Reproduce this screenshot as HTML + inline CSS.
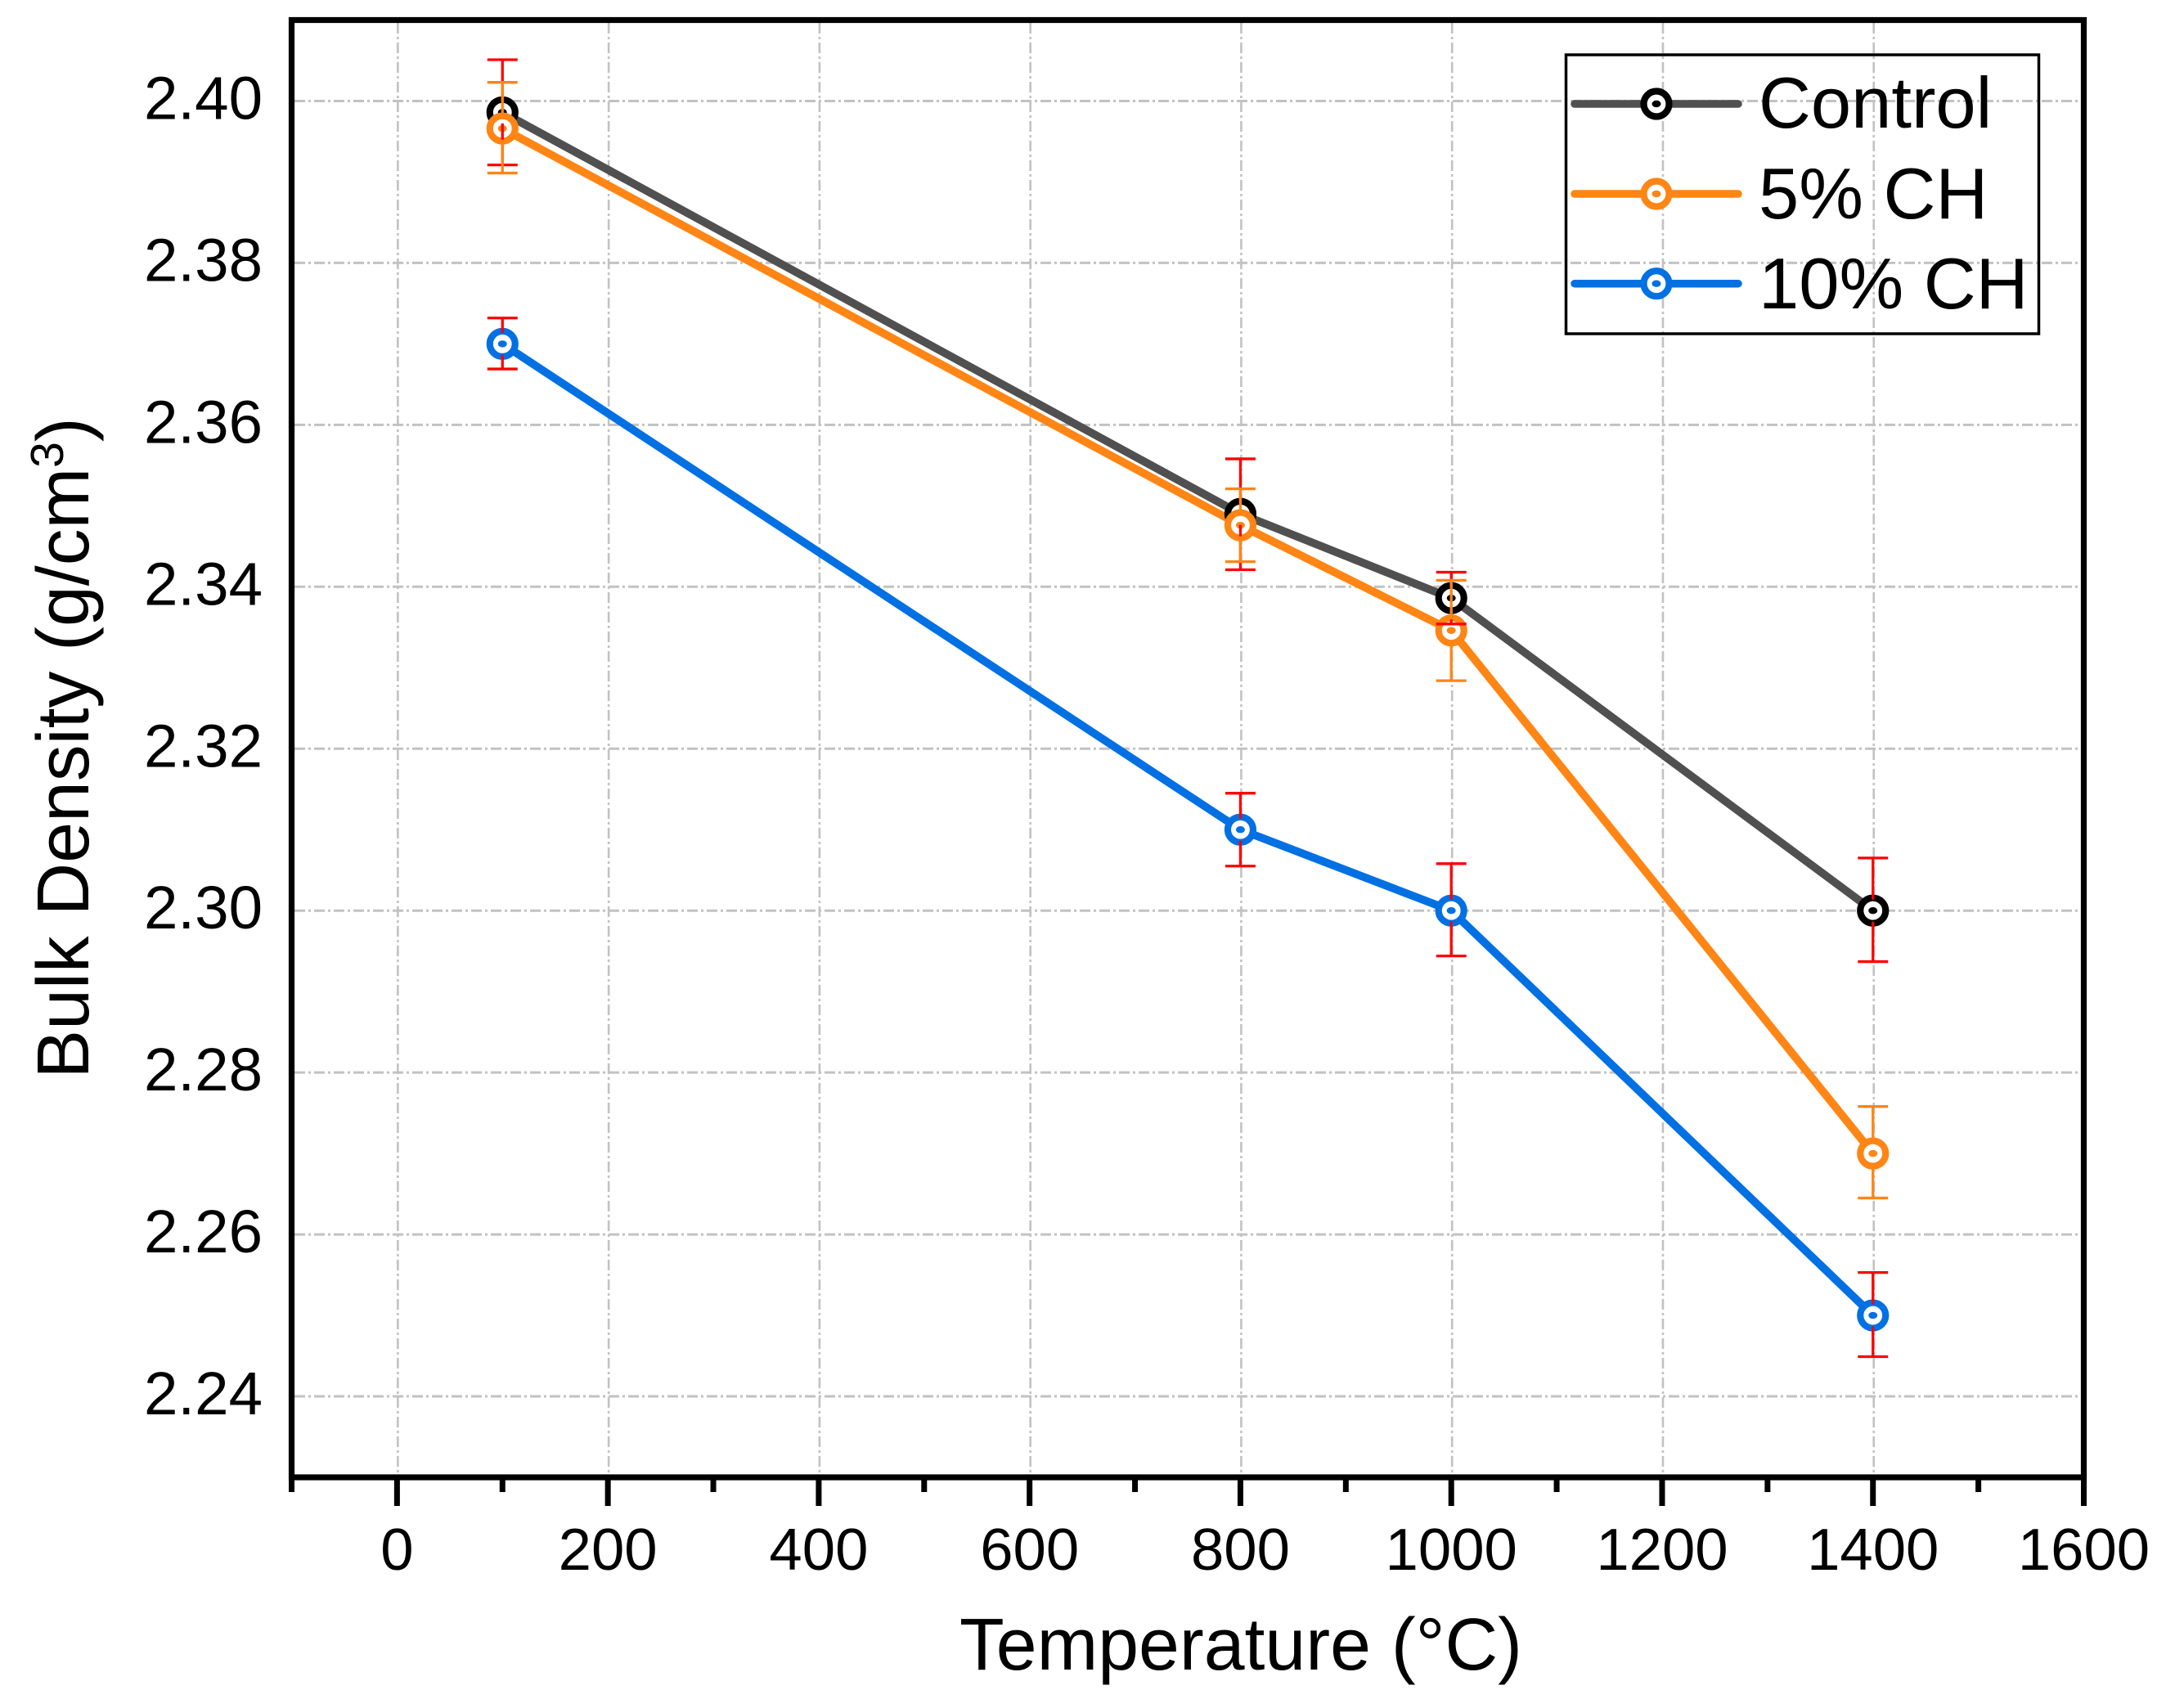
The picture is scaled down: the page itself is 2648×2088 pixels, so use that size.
<!DOCTYPE html>
<html lang="en">
<head>
<meta charset="utf-8">
<title>Bulk Density vs Temperature</title>
<style>
html,body{margin:0;padding:0;background:#fff;}
svg{display:block;font-family:"Liberation Sans",Arial,sans-serif;}
</style>
</head>
<body>
<svg id="chart" xmlns="http://www.w3.org/2000/svg" width="2648" height="2088" viewBox="0 0 2648 2088">
  <rect x="0" y="0" width="2648" height="2088" fill="#ffffff"/>
  <g id="grid"></g>
  <g id="series"></g>
  <g id="errors"></g>
  <g id="axes"></g>
  <text x="1517" y="2041" font-size="89.6" text-anchor="middle" fill="#000">Temperature (°C)</text>
  <text transform="translate(108,914.5) rotate(-90)" font-size="89.6" text-anchor="middle" fill="#000">Bulk Density (g/cm<tspan font-size="57" dy="-31">3</tspan><tspan dy="31">)</tspan></text>
  <g id="legend">
    <rect x="1914.5" y="67" width="578" height="341" fill="none" stroke="#000" stroke-width="3.5"/>
    <text x="2150" y="156" font-size="88.5" fill="#000">Control</text>
    <text x="2150" y="267" font-size="88.5" fill="#000">5% CH</text>
    <text x="2150" y="377" font-size="88.5" fill="#000">10% CH</text>
  </g>
</svg>
<script>
const temperatures = [100, 800, 1000, 1400];
const seriesNames = ["control", "5-ch", "10-ch"];
const controlValues = [2.3986, 2.349, 2.3386, 2.30];
const ch5Values = [2.3966, 2.3476, 2.3346, 2.27];
const ch10Values = [2.37, 2.31, 2.30, 2.25];
const controlUpper = [2.4051, 2.3558, 2.3418, 2.3065];
const controlLower = [2.3921, 2.3421, 2.3354, 2.2937];
const ch5Upper = [2.4023, 2.3521, 2.3408, 2.2758];
const ch5Lower = [2.3911, 2.3431, 2.3284, 2.2645];
const ch10Upper = [2.3732, 2.3145, 2.3058, 2.2553];
const ch10Lower = [2.3669, 2.3055, 2.2944, 2.2449];
const xMajorTicks = [0, 200, 400, 600, 800, 1000, 1200, 1400, 1600];
const xMinorTicks = [-100, 100, 300, 500, 700, 900, 1100, 1300, 1500];
const yTicks = [2.24, 2.26, 2.28, 2.30, 2.32, 2.34, 2.36, 2.38, 2.40];
const xDomain = [-100, 1600];
const yDomain = [2.23, 2.41];

const plot = {left: 356.5, right: 2547.5, top: 24.5, bottom: 1806};
const lineColors = ["#505050", "#FF8515", "#0070E3"];
const ringColors = ["#000000", "#FF8515", "#0070E3"];
const barColors = ["#FF0000", "#FF8515", "#FF0000"];
const SVGNS = "http://www.w3.org/2000/svg";

function xScale(v) {
  return plot.left + (v - xDomain[0]) / (xDomain[1] - xDomain[0]) * (plot.right - plot.left);
}
function yScale(v) {
  return plot.bottom - (v - yDomain[0]) / (yDomain[1] - yDomain[0]) * (plot.bottom - plot.top);
}
function mk(parent, tag, attrs) {
  const el = document.createElementNS(SVGNS, tag);
  for (const k in attrs) el.setAttribute(k, attrs[k]);
  parent.appendChild(el);
  return el;
}
function drawMarker(parent, cx, cy, i) {
  const ring = mk(parent, "circle", {cx: cx, cy: cy, r: 15.5, fill: "#fff", stroke: ringColors[i], "stroke-width": 8.2});
  
  
  const dot = mk(parent, "ellipse", {cx: cx, cy: cy, rx: 5.5, ry: 4.2, fill: ringColors[i]});
  
  
}

const gridG = document.getElementById("grid");
const seriesG = document.getElementById("series");
const errorsG = document.getElementById("errors");
const axesG = document.getElementById("axes");
const legendG = document.getElementById("legend");

/* grid */
yTicks.forEach(function (t) {
  const l = mk(gridG, "line", {x1: plot.left + 3.5, x2: plot.right - 3.5, y1: yScale(t), y2: yScale(t), stroke: "#C2C2C2", "stroke-width": 3, "stroke-dasharray": "13 4 3 4"});
  
  
});
xMajorTicks.slice(0, -1).forEach(function (t) {
  const l = mk(gridG, "line", {x1: xScale(t) + 1, x2: xScale(t) + 1, y1: plot.top + 3.5, y2: plot.bottom - 3.5, stroke: "#C2C2C2", "stroke-width": 2.6, "stroke-dasharray": "13 4 3 4"});
  
  
});

/* series */
const allValues = [controlValues, ch5Values, ch10Values];
const allUpper = [controlUpper, ch5Upper, ch10Upper];
const allLower = [controlLower, ch5Lower, ch10Lower];
allValues.forEach(function (vals, i) {
  const pts = vals.map(function (v, j) { return xScale(temperatures[j]) + "," + yScale(v); }).join(" ");
  const pl = mk(seriesG, "polyline", {points: pts, fill: "none", stroke: lineColors[i], "stroke-width": 9.8, "stroke-linejoin": "round"});
  
  
});
allValues.forEach(function (vals, i) {
  vals.forEach(function (v, j) {
    drawMarker(seriesG, xScale(temperatures[j]), yScale(v), i);
  });
});

/* error bars */
const GAP = 13.5;
const CAP = 18.5;
allValues.forEach(function (vals, i) {
  vals.forEach(function (v, j) {
    const cx = xScale(temperatures[j]);
    const cy = yScale(v);
    const up = yScale(allUpper[i][j]);
    const lo = yScale(allLower[i][j]);
    const segs = [
      [cx, up, cx, cy - GAP],
      [cx, cy + GAP, cx, lo],
      [cx - CAP, up, cx + CAP, up],
      [cx - CAP, lo, cx + CAP, lo]
    ];
    segs.forEach(function (s) {
      const l = mk(errorsG, "line", {x1: s[0], y1: s[1], x2: s[2], y2: s[3], stroke: barColors[i], "stroke-width": 3.3});
      
      
    });
  });
});

/* axes frame */
const frame = mk(axesG, "rect", {x: plot.left, y: plot.top, width: plot.right - plot.left, height: plot.bottom - plot.top, fill: "none", stroke: "#000", "stroke-width": 7.2});



xMajorTicks.forEach(function (t) {
  const l = mk(axesG, "line", {x1: xScale(t), x2: xScale(t), y1: plot.bottom, y2: 1841, stroke: "#000", "stroke-width": 7});
  
  
  const tx = mk(axesG, "text", {x: xScale(t), y: 1919, "font-size": 72.5, "text-anchor": "middle", fill: "#000"});
  tx.textContent = String(t);
  
  
});
xMinorTicks.forEach(function (t) {
  const l = mk(axesG, "line", {x1: xScale(t), x2: xScale(t), y1: plot.bottom, y2: 1824, stroke: "#000", "stroke-width": 7});
  
  
});
yTicks.forEach(function (t) {
  const tx = mk(axesG, "text", {x: 321, y: yScale(t) + 22, "font-size": 74.5, "text-anchor": "end", fill: "#000"});
  tx.textContent = t.toFixed(2);
  
  
});

/* legend samples */
const legendYs = [127, 237, 346.7];
legendYs.forEach(function (ly, i) {
  const l = mk(legendG, "line", {x1: 1925, x2: 2125, y1: ly, y2: ly, stroke: lineColors[i], "stroke-width": 9.5, "stroke-linecap": "round"});
  
  
  drawMarker(legendG, 2025, ly, i);
});
</script>
</body>
</html>
